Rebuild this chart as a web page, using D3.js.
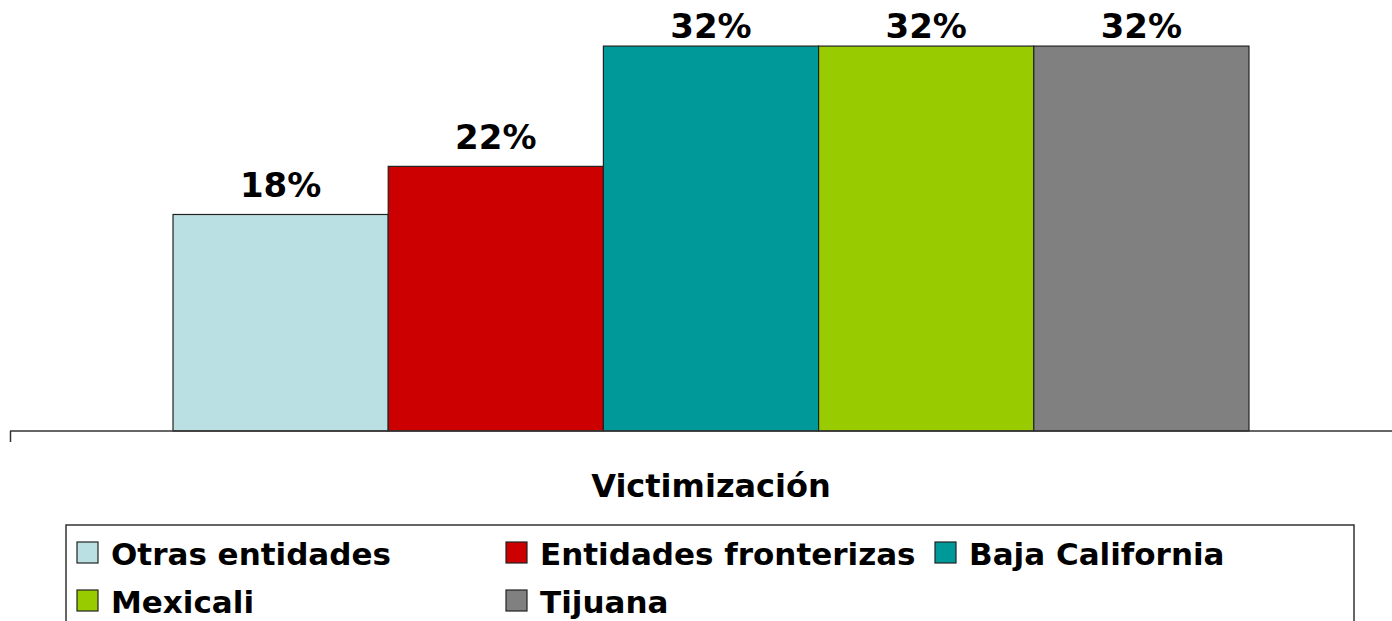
<!DOCTYPE html>
<html><head><meta charset="utf-8">
<script src="https://cdn.jsdelivr.net/npm/d3@7"></script>
<style>
html,body{margin:0;padding:0;background:#fff;}
text{font-family:"DejaVu Sans",Verdana,sans-serif;font-weight:bold;fill:#000;}
</style></head>
<body>
<svg id="c" width="1392" height="621"></svg>
<script>
const categories = ["Victimización"];
const series = ["Otras entidades","Entidades fronterizas","Baja California","Mexicali","Tijuana"];
const values = [0.18, 0.22, 0.32, 0.32, 0.32];
const colors = ["#BBE0E3","#CC0000","#009999","#99CC00","#808080"];
const yMax = 0.35;

const svg = d3.select("#c");
const W = 1392, H = 621;
const plot = {left:10, right:1412, top:10, bottom:431};

const x0 = d3.scaleBand().domain(categories).range([plot.left, plot.right]).paddingInner(0).paddingOuter(0.1515);
const x1 = d3.scaleBand().domain(series).range([0, x0.bandwidth()]).padding(0);
const y = d3.scaleLinear().domain([0, yMax]).range([plot.bottom, plot.top]);
const fmt = d3.format(".0%");

const g = svg.append("g");
const data = series.map((s,i)=>({s, v:values[i], c:colors[i]}));

g.selectAll("rect.bar").data(data).enter().append("rect")
  .attr("class","bar")
  .attr("x", d=>x0(categories[0]) + x1(d.s))
  .attr("y", d=>y(d.v))
  .attr("width", x1.bandwidth())
  .attr("height", d=>y(0)-y(d.v))
  .attr("fill", d=>d.c)
  .attr("stroke","#222").attr("stroke-width",1.2);

g.selectAll("text.lbl").data(data).enter().append("text")
  .attr("class","lbl")
  .attr("x", d=>x0(categories[0]) + x1(d.s) + x1.bandwidth()/2)
  .attr("y", d=>Math.max(y(d.v)-17, 38))
  .attr("text-anchor","middle")
  .style("font-size","34px")
  .text(d=>fmt(d.v));

// x axis
const axis = svg.append("g").attr("transform",`translate(0,${plot.bottom})`)
  .call(d3.axisBottom(x0).tickSize(0).tickFormat(""));
axis.select(".domain").remove();
axis.append("line").attr("x1",plot.left).attr("x2",W).attr("y1",0).attr("y2",0)
  .attr("stroke","#333").attr("stroke-width",1.5);
axis.append("line").attr("x1",plot.left+0.5).attr("x2",plot.left+0.5).attr("y1",0).attr("y2",11)
  .attr("stroke","#333").attr("stroke-width",1.5);

// category label
svg.append("text").attr("x", x0(categories[0]) + x0.bandwidth()/2).attr("y",497)
  .attr("text-anchor","middle").style("font-size","32px").text(categories[0]);

// legend
svg.append("rect").attr("x",66).attr("y",525).attr("width",1288).attr("height",120)
  .attr("fill","none").attr("stroke","#333").attr("stroke-width",1.5);
const cols = [77, 506, 935], rows = [542, 590];
const leg = svg.selectAll("g.leg").data(data).enter().append("g").attr("class","leg")
  .attr("transform",(d,i)=>`translate(${cols[i%3]},${rows[Math.floor(i/3)]})`);
leg.append("rect").attr("width",21).attr("height",21).attr("fill",d=>d.c)
  .attr("stroke","#222").attr("stroke-width",1.2);
leg.append("text").attr("x",34).attr("y",23).style("font-size","31px").text(d=>d.s);
</script>
</body></html>
